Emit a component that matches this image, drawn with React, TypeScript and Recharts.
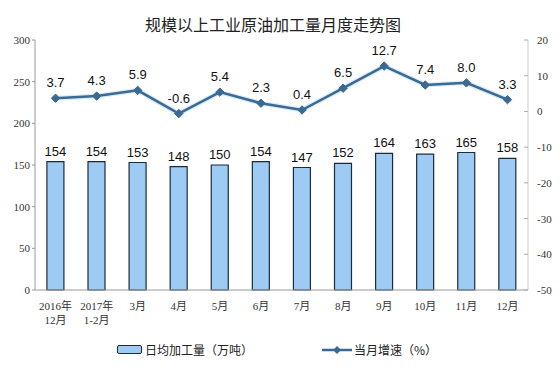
import React from "react";
import { ComposedChart, Bar, Line, XAxis, YAxis, LabelList } from "recharts";

const categories = ["2016年\n12月", "2017年\n1-2月", "3月", "4月", "5月", "6月", "7月", "8月", "9月", "10月", "11月", "12月"];
const dailyOutput = [154, 154, 153, 148, 150, 154, 147, 152, 164, 163, 165, 158];
const growth = [3.7, 4.3, 5.9, -0.6, 5.4, 2.3, 0.4, 6.5, 12.7, 7.4, 8.0, 3.3];
const leftTicks = [0, 50, 100, 150, 200, 250, 300];
const rightTicks = [-50, -40, -30, -20, -10, 0, 10, 20];

const data = categories.map((c, i) => ({ name: c, output: dailyOutput[i], growth: growth[i] }));

const tickFont = "'Liberation Serif', 'Noto Sans CJK SC', serif";
const labelFont = "'Liberation Sans', Arial, sans-serif";
const cjkFont = "'Noto Sans CJK SC', sans-serif";

const XTick = (props: any) => {
  const { x, y, payload } = props;
  const lines = String(payload.value).split("\n");
  return (
    <text x={x} y={y + 12} textAnchor="middle" fontSize={11} fill="#333" fontFamily={tickFont}>
      {lines.map((l, i) => (
        <tspan key={i} x={x} dy={i === 0 ? 0 : 14}>{l}</tspan>
      ))}
    </text>
  );
};

const RightTick = (props: any) => {
  const { x, y, payload } = props;
  return (
    <g>
      <line x1={x - 9} y1={y} x2={x - 5} y2={y} stroke="#aaa" />
      <text x={x + 4} y={y + 4} textAnchor="start" fontSize={11} fill="#333" fontFamily={tickFont}>{payload.value}</text>
    </g>
  );
};

const Diamond = (props: any) => {
  const { cx, cy } = props;
  if (cx == null || cy == null) return null;
  const s = 4.2;
  return <path d={`M${cx},${cy - s}L${cx + s},${cy}L${cx},${cy + s}L${cx - s},${cy}Z`} fill="#3A6A94" stroke="#3A6A94" />;
};

export default function App() {
  return (
    <div style={{ position: "relative", width: 552, height: 372, background: "#fff" }}>
      <div style={{ position: "absolute", left: 0, width: 530, top: 4, textAlign: "center", fontFamily: cjkFont, fontSize: 16, color: "#222" }}>
        规模以上工业原油加工量月度走势图
      </div>
      <ComposedChart width={552} height={372} data={data} margin={{ top: 32, right: 0, bottom: 50, left: 0 }} barCategoryGap="29%" style={{ overflow: "visible" }}>
        <XAxis dataKey="name" tick={<XTick />} tickLine={false} axisLine={{ stroke: "#999" }} height={40} interval={0} />
        <YAxis yAxisId="left" domain={[0, 300]} ticks={leftTicks} width={27} tick={{ fontSize: 11, fill: "#333", fontFamily: tickFont }} tickLine={{ stroke: "#999" }} tickSize={3} axisLine={{ stroke: "#999" }} />
        <YAxis yAxisId="right" orientation="right" domain={[-50, 20]} ticks={rightTicks} width={32} tick={<RightTick />} tickLine={false} tickSize={3} tickMargin={2} axisLine={{ stroke: "#ccc" }} />
        <Bar yAxisId="left" dataKey="output" fill="#9DCBF3" stroke="#1B2B3D" strokeWidth={1.2} isAnimationActive={false}>
          <LabelList dataKey="output" position="top" offset={6} style={{ fontSize: 13, fill: "#111", fontFamily: labelFont }} />
        </Bar>
        <Line yAxisId="right" dataKey="growth" stroke="#DCEBF8" strokeWidth={5} dot={false} activeDot={false} isAnimationActive={false} legendType="none" />
        <Line yAxisId="right" dataKey="growth" stroke="#3A6A94" strokeWidth={2.5} dot={<Diamond />} activeDot={false} isAnimationActive={false}>
          <LabelList dataKey="growth" position="top" offset={11} formatter={(v: any) => Number(v).toFixed(1)} style={{ fontSize: 13, fill: "#111", fontFamily: labelFont }} />
        </Line>
      </ComposedChart>
      <div style={{ position: "absolute", left: 109, top: 333, display: "flex", alignItems: "center", fontFamily: cjkFont, fontSize: 12, color: "#222" }}>
        <div style={{ width: 23, height: 7, background: "#9DCBF3", border: "1.5px solid #1B2B3D", borderRadius: 2, marginRight: 3 }} />
        日均加工量（万吨）
      </div>
      <div style={{ position: "absolute", left: 314, top: 333, display: "flex", alignItems: "center", fontFamily: cjkFont, fontSize: 12, color: "#222" }}>
        <svg width={30} height={10} style={{ marginRight: 2 }}>
          <line x1={0} y1={5} x2={30} y2={5} stroke="#3A6A94" strokeWidth={2.5} />
          <path d="M15,1L19,5L15,9L11,5Z" fill="#3A6A94" />
        </svg>
        当月增速（%）
      </div>
    </div>
  );
}
